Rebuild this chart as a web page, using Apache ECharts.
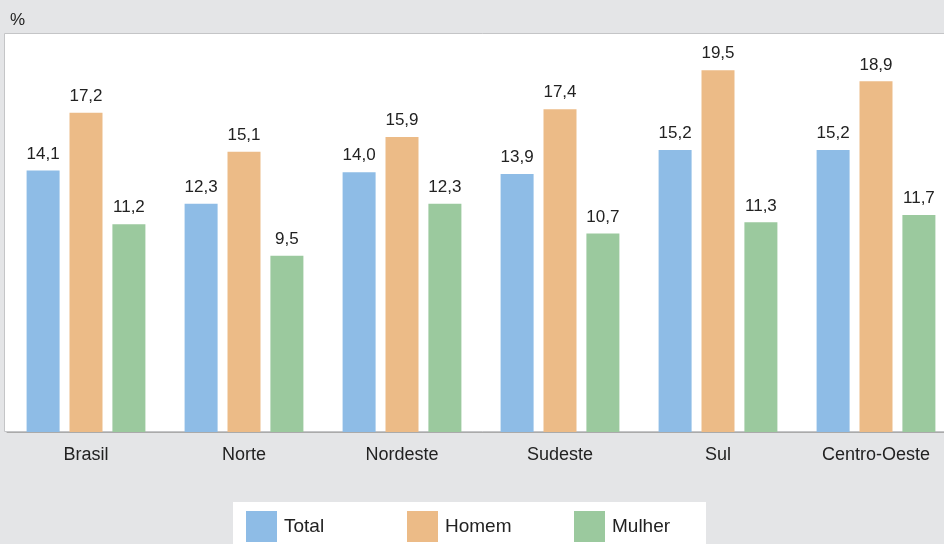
<!DOCTYPE html>
<html>
<head>
<meta charset="utf-8">
<script src="https://cdn.jsdelivr.net/npm/echarts@6/dist/echarts.min.js"></script>
<style>
  html, body { margin: 0; padding: 0; background: #e4e5e7; overflow: hidden; }
  #chart { width: 960px; height: 544px; }
</style>
</head>
<body>
<div id="chart"></div>
<script>
// dados
const regioes = ["Brasil", "Norte", "Nordeste", "Sudeste", "Sul", "Centro-Oeste"];
const total = [14.1, 12.3, 14.0, 13.9, 15.2, 15.2];
const homem = [17.2, 15.1, 15.9, 17.4, 19.5, 18.9];
const mulher = [11.2, 9.5, 12.3, 10.7, 11.3, 11.7];
const nomesSeries = ["Total", "Homem", "Mulher"];

const fonte = "Liberation Sans, Arial, sans-serif";
const cores = ["#8ebce6", "#ecbb87", "#9bc99e"];
const legendaX = [246, 407, 574];

// rótulo com vírgula decimal
const rotulo = {
    show: true,
    position: "top",
    distance: 8,
    color: "#222",
    fontSize: 17,
    fontFamily: fonte,
    formatter: (p) => p.value.toFixed(1).replace(".", ","),
};

const chart = echarts.init(document.getElementById("chart"));

chart.setOption({
    backgroundColor: "#e4e5e7",
    color: cores,
    animation: false,
    graphic: [
        // área branca do gráfico
        {
            type: "rect",
            silent: true,
            z: -10,
            shape: { x: 4.5, y: 33.5, width: 970, height: 398 },
            style: { fill: "#fff", stroke: "#c4c5c7", lineWidth: 1 },
        },
        // caixa da legenda
        {
            type: "rect",
            silent: true,
            z: -10,
            shape: { x: 233, y: 502, width: 473, height: 60 },
            style: { fill: "#fff" },
        },
        {
            type: "text",
            left: 10,
            top: 12,
            style: { text: "%", fontSize: 17, fill: "#222", fontFamily: fonte },
        },
    ],
    // uma legenda por série, para posicionar cada item
    legend: nomesSeries.map((nome, i) => ({
        data: [nome],
        left: legendaX[i],
        top: 511,
        padding: 0,
        itemWidth: 31,
        itemHeight: 31,
        itemGap: 0,
        icon: "rect",
        textStyle: { fontSize: 19, color: "#222", fontFamily: fonte, padding: [0, 0, 0, 2] },
    })),
    grid: { left: 7, top: 34, width: 948, height: 398 },
    xAxis: {
        type: "category",
        data: regioes,
        axisLine: { lineStyle: { color: "#aaa" } },
        axisTick: { length: 5, lineStyle: { color: "#aaa" } },
        axisLabel: { fontSize: 18, color: "#222", fontFamily: fonte, margin: 14 },
    },
    yAxis: {
        type: "value",
        min: 0,
        max: 21.45,
        show: false,
        splitLine: { show: false },
    },
    series: [
        { name: nomesSeries[0], type: "bar", data: total, barWidth: 33, barGap: "30%", label: rotulo },
        { name: nomesSeries[1], type: "bar", data: homem, barWidth: 33, barGap: "30%", label: rotulo },
        { name: nomesSeries[2], type: "bar", data: mulher, barWidth: 33, barGap: "30%", label: rotulo },
    ],
});
</script>
</body>
</html>
